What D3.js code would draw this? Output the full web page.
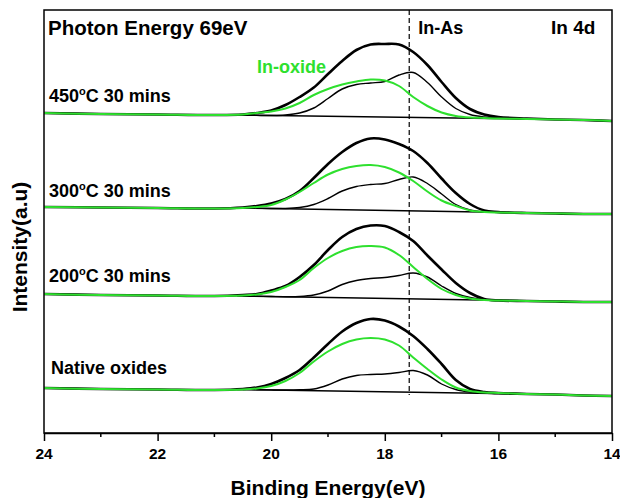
<!DOCTYPE html>
<html>
<head>
<meta charset="utf-8">
<script src="https://cdnjs.cloudflare.com/ajax/libs/d3/7.8.5/d3.min.js"></script>
<style>
  body { margin: 0; background: #fff; }
  text { font-family: Arial, "Liberation Sans", sans-serif; font-weight: bold; }
</style>
</head>
<body>
<script>

// binding energy grid (eV) for the measured spectra
var energy = [24, 23, 22, 21, 20.5, 20.25, 20, 19.75, 19.5, 19.25, 19, 18.75, 18.5, 18.25, 18,
              17.75, 17.5, 17.25, 17, 16.75, 16.5, 16.25, 16, 15.5, 15, 14.5, 14];
// energy grid for the In-As fit component
var fitEnergy = [20.5, 20.25, 20, 19.75, 19.5, 19.25, 19, 18.75, 18.5, 18.25, 18,
                 17.75, 17.5, 17.25, 17, 16.75, 16.5, 16.25, 16, 15.5];
// background line end points
var bgEnergy = [20.6, 15.4];

// intensities (a.u., already stacked)
var raw450 = [320, 319, 318.5, 318, 318.5, 320, 322.5, 328, 336, 345.5, 359, 372, 383, 388.5, 389,
              388.5, 381, 368, 351, 335, 324, 318.5, 316, 314.5, 313.5, 313, 312];
var oxide450 = [320, 319, 318.5, 318, 318.5, 320, 321.5, 324.5, 330, 338, 344, 348.5, 351.5, 353.5, 352.5,
                347, 336, 327, 320.5, 317, 315.5, 315, 314.5, 314, 313.5, 313, 312];
var inas450 = [317.8, 317.6, 317.5, 318, 320, 325, 334.5, 344, 348.5, 350, 351.5,
               358, 360.5, 350.5, 336, 324.5, 318.5, 316, 315, 314];
var base450 = [318, 314];

var raw300 = [226, 225.5, 225, 224.5, 225.5, 227, 229.5, 234, 242, 255, 269, 281, 290, 294.5, 293.5,
              289, 282, 270, 254.5, 240, 229, 222.5, 221, 220, 219.5, 219, 219];
var oxide300 = [226, 225.5, 225, 224.5, 225, 226, 228, 233.5, 241, 250, 258.5, 264, 267, 268, 266,
                260.5, 252, 241.5, 232.5, 227, 222.5, 221, 220.5, 220, 219.5, 219, 219];
var inas300 = [225, 224.7, 224.5, 224.5, 225.5, 228.5, 234.5, 242, 246.5, 248.5, 249.5,
               253.5, 256, 249.5, 239, 228.5, 223, 221, 220.5, 220];
var base300 = [225, 220];

var raw200 = [139, 138, 137.5, 137, 138, 139, 142.5, 147, 156, 168, 183, 196, 204, 207.5, 207,
              201, 192, 177.5, 163.5, 150, 140, 134, 132.5, 132, 131.5, 131, 131];
var oxide200 = [139, 138, 137.5, 137, 137.5, 138.5, 141, 146, 153, 165, 175, 182, 186, 187, 185.5,
                178, 166, 154, 144, 138, 134.5, 133, 132.5, 132, 131.5, 131, 131];
var inas200 = [137, 136.7, 136.5, 136.3, 136.5, 138, 142, 148.5, 152.5, 154.5, 155.5,
               157.5, 160, 156, 147, 139.5, 135.5, 133.5, 133, 132];
var base200 = [137, 132];

var rawNative = [45, 44, 43.5, 43, 44, 45.5, 49, 55, 63, 75.5, 89, 101.5, 110, 114, 112.5,
                 106.5, 97, 84, 69, 53, 44, 41, 40, 39, 38.5, 37.5, 37];
var oxideNative = [45, 44, 43.5, 43, 43.5, 44.5, 47, 52, 60, 71.5, 81.5, 89, 93.5, 95, 93.5,
                   87.5, 75.5, 64, 53.5, 45.5, 42, 40.5, 40, 39, 38.5, 37.5, 37];
var inasNative = [43.5, 43.3, 43.1, 43, 43.2, 44, 48, 54, 57.5, 58.5, 59,
                  60.5, 62.5, 58, 49, 43.5, 41, 40, 39.5, 39];
var baseNative = [43.5, 39];

var xTicks = [24, 22, 20, 18, 16, 14];
var xMinor = [23, 21, 19, 17, 15];
var inAsPeak = 17.57;

var spectra = [
  {label: "450", raw: raw450, oxide: oxide450, inas: inas450, base: base450, ly: 331},
  {label: "300", raw: raw300, oxide: oxide300, inas: inas300, base: base300, ly: 236},
  {label: "200", raw: raw200, oxide: oxide200, inas: inas200, base: base200, ly: 151},
  {label: "Native oxides", raw: rawNative, oxide: oxideNative, inas: inasNative, base: baseNative, ly: 59}
];

var margin = {top: 10, right: 8, bottom: 65, left: 44},
    width = 620 - margin.left - margin.right,
    height = 498 - margin.top - margin.bottom;

var green = "#2ee02e";

var svg = d3.select("body").append("svg")
    .attr("width", 620)
    .attr("height", 498)
  .append("g")
    .attr("transform", "translate(" + margin.left + "," + margin.top + ")");

var x = d3.scaleLinear().domain([24, 14]).range([0, width]);
var y = d3.scaleLinear().domain([0, 423]).range([height, 0]);

function lineOf(xs) {
  return d3.line()
    .x(function(d, i) { return x(xs[i]); })
    .y(function(d) { return y(d); })
    .curve(d3.curveCatmullRom.alpha(0.5));
}

// dashed In-As marker
svg.append("line")
    .attr("x1", x(inAsPeak)).attr("x2", x(inAsPeak))
    .attr("y1", 0).attr("y2", y(38))
    .attr("stroke", "#000")
    .attr("stroke-width", 1.2)
    .attr("stroke-dasharray", "5,3");

spectra.forEach(function(s) {
  svg.append("path")
      .attr("d", d3.line().x(function(d, i) { return x(bgEnergy[i]); }).y(function(d) { return y(d); })(s.base))
      .attr("fill", "none").attr("stroke", "#000").attr("stroke-width", 1.5);
  svg.append("path")
      .attr("d", lineOf(energy)(s.raw))
      .attr("fill", "none").attr("stroke", "#000").attr("stroke-width", 2.6);
  svg.append("path")
      .attr("d", lineOf(fitEnergy)(s.inas))
      .attr("fill", "none").attr("stroke", "#000").attr("stroke-width", 1.4);
  svg.append("path")
      .attr("d", lineOf(energy)(s.oxide))
      .attr("fill", "none").attr("stroke", green).attr("stroke-width", 2);
});

// frame
svg.append("rect")
    .attr("width", width).attr("height", height)
    .attr("fill", "none").attr("stroke", "#000").attr("stroke-width", 1.5);

var xAxis = d3.axisBottom(x).tickValues(xTicks).tickSize(8).tickSizeOuter(0).tickFormat("");
var gx = svg.append("g")
    .attr("transform", "translate(0," + height + ")")
    .call(xAxis);
gx.select(".domain").attr("stroke-width", 1.5);
gx.selectAll(".tick line").attr("stroke-width", 1.5);

// tick labels
svg.append("g").selectAll("text")
    .data(xTicks)
    .enter().append("text")
    .attr("x", function(d) { return x(d); })
    .attr("y", height + 26)
    .attr("text-anchor", "middle")
    .attr("font-size", "15.5px")
    .text(function(d) { return d; });

svg.append("g").selectAll("line")
    .data(xMinor)
    .enter().append("line")
    .attr("x1", function(d) { return x(d); })
    .attr("x2", function(d) { return x(d); })
    .attr("y1", height).attr("y2", height + 4)
    .attr("stroke", "#000").attr("stroke-width", 1.5);

// axis titles
svg.append("text")
    .attr("x", width / 2)
    .attr("y", height + 62)
    .attr("text-anchor", "middle")
    .attr("font-size", "21px")
    .text("Binding Energy(eV)");

svg.append("text")
    .attr("transform", "rotate(-90)")
    .attr("x", -237)
    .attr("y", -17)
    .attr("text-anchor", "middle")
    .attr("font-size", "21px")
    .text("Intensity(a.u)");

// annotations
svg.append("text").attr("x", 4).attr("y", 25).attr("font-size", "20.5px").text("Photon Energy 69eV");
svg.append("text").attr("x", x(inAsPeak) + 9).attr("y", 24).attr("font-size", "18px").text("In-As");
svg.append("text").attr("x", 507).attr("y", 24).attr("font-size", "19px").text("In 4d");
svg.append("text").attr("x", 213).attr("y", 63).attr("font-size", "18px")
    .attr("fill", green).text("In-oxide");

spectra.forEach(function(s) {
  var t = svg.append("text")
      .attr("x", s.label === "Native oxides" ? 7 : 5)
      .attr("y", y(s.ly))
      .attr("font-size", "18px");
  if (s.label === "Native oxides") {
    t.text(s.label);
  } else {
    t.append("tspan").text(s.label);
    t.append("tspan").attr("font-size", "11px").attr("dy", "-7").text("o");
    t.append("tspan").attr("dy", "7").text("C 30 mins");
  }
});

</script>
</body>
</html>
